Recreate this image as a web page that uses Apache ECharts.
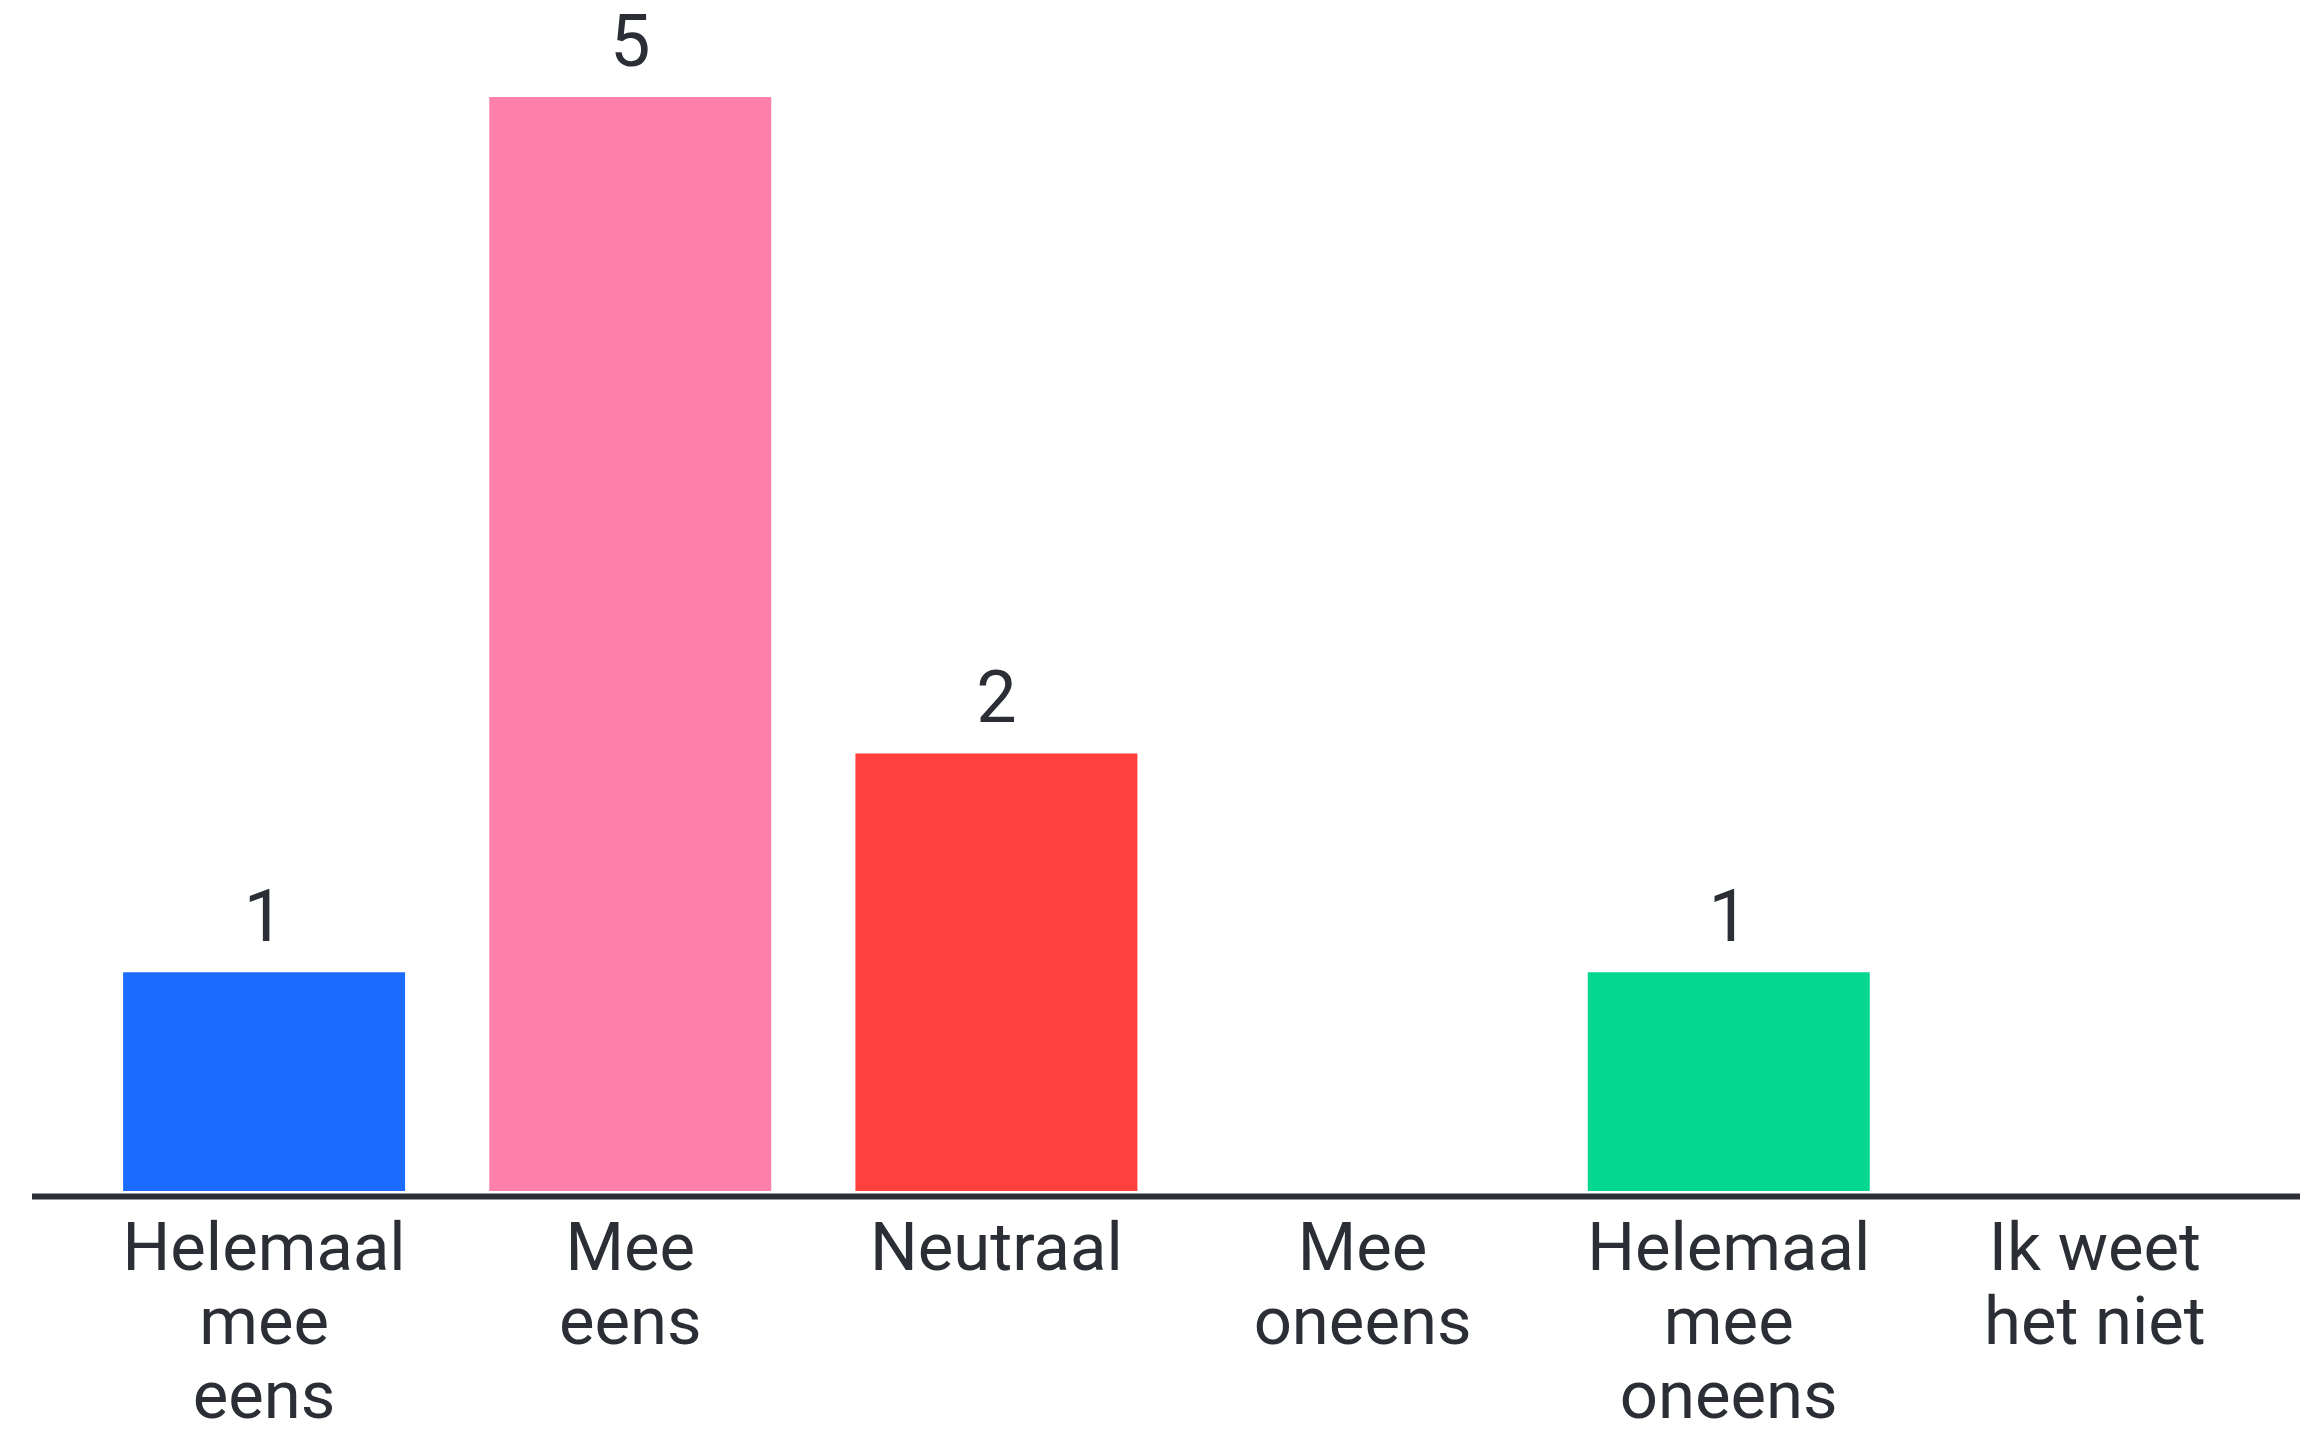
<!DOCTYPE html>
<html>
<head>
<meta charset="utf-8">
<script src="https://cdn.jsdelivr.net/npm/echarts@6/dist/echarts.min.js"></script>
<style>
html,body{margin:0;padding:0;background:#fff;}
#chart{width:2300px;height:1438px;}
</style>
</head>
<body>
<div id="chart"></div>
<script>
const categories = ["Helemaal\nmee\neens", "Mee\neens", "Neutraal", "Mee\noneens", "Helemaal\nmee\noneens", "Ik weet\nhet niet"];
const counts = [1, 5, 2, 0, 1, 0];
const barColors = ["#1c6bff", "#ff80aa", "#ff403c", "#cccccc", "#03d790", "#cccccc"];

const chart = echarts.init(document.getElementById('chart'));
const textColor = '#2b2f35';
const font = 'Roboto, "Noto Sans", sans-serif';

chart.setOption({
  animation: false,
  backgroundColor: '#ffffff',
  grid: {left: 81, right: 22, top: 97, bottom: 238, containLabel: false},
  xAxis: {
    type: 'category',
    data: categories,
    axisLine: {show: false},
    axisTick: {show: false},
    axisLabel: {
      interval: 0,
      margin: 25,
      color: textColor,
      fontFamily: font,
      fontSize: 67,
      lineHeight: 74,
      verticalAlign: 'top'
    }
  },
  yAxis: {
    type: 'value',
    min: 0,
    max: 5,
    show: false,
    splitLine: {show: false}
  },
  series: [{
    type: 'bar',
    data: counts.map((v, i) => ({value: v, itemStyle: {color: barColors[i]}})),
    barWidth: 282,
    label: {
      show: true,
      position: 'top',
      distance: 13,
      color: textColor,
      fontFamily: font,
      fontSize: 72,
      formatter: p => (p.value === 0 ? '' : String(p.value))
    }
  }]
});

const y0 = chart.convertToPixel({yAxisIndex: 0}, 0);
chart.setOption({
  graphic: [{
    type: 'line',
    z: 10,
    shape: {x1: 32, y1: y0 + 5.5, x2: 2300, y2: y0 + 5.5},
    style: {stroke: '#2b2f35', lineWidth: 6}
  }]
});
</script>
</body>
</html>
